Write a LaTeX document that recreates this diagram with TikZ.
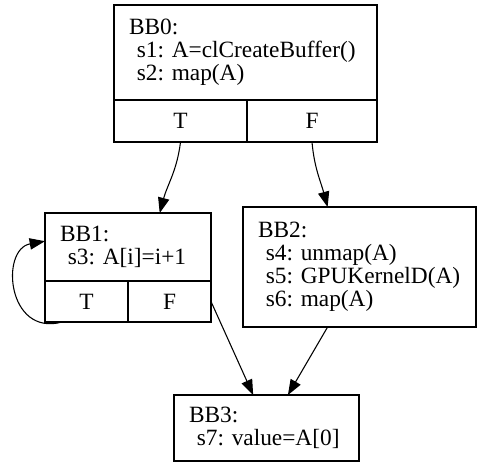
\documentclass[tikz,border=0pt]{standalone}
\usepackage{fontspec}
\setmainfont{Liberation Serif}
\usetikzlibrary{arrows.meta,positioning}
\frenchspacing

\tikzset{
  block/.style={draw, rectangle, line width=0.8pt, anchor=north west, inner xsep=11.25pt, inner ysep=0pt, outer sep=0pt, align=left, font=\fontsize{17.5}{17.25}\selectfont},
  port/.style={draw, rectangle, line width=0.8pt, anchor=north west, inner sep=0pt, outer sep=0pt, font=\fontsize{17.5}{17.25}\selectfont},
  flow/.style={-{Triangle[length=11.5pt,width=8.5pt]}, line width=0.8pt}
}

\begin{document}
\begin{tikzpicture}[x=0.75pt, y=0.75pt, line cap=round]
  \useasboundingbox (0,0) rectangle (477,-462);
  % BB0 with its two ports
  \node[block, text width=174.75pt, minimum height=71.25pt] (bb0) at (114,-5)
    {BB0:\\\ s1: A=clCreateBuffer()\\\ s2: map(A)};
  \node[port, minimum width=99.75pt, minimum height=31.5pt] (bb0t) at (bb0.south west) {T};
  \node[port, minimum width=97.5pt, minimum height=31.5pt] (bb0f) at (bb0t.north east) {F};
  % BB1 with its two ports
  \node[block, text width=102pt, minimum height=51pt] (bb1) at (45,-213)
    {BB1:\\\ s3: A[i]=i+1};
  \node[port, minimum width=62.25pt, minimum height=30.75pt] (bb1t) at (bb1.south west) {T};
  \node[port, minimum width=62.25pt, minimum height=30.75pt] (bb1f) at (bb1t.north east) {F};
  % BB2 and BB3
  \node[block, text width=152.25pt, minimum height=90pt] (bb2) at (243,-207)
    {BB2:\\\ s4: unmap(A)\\\ s5: GPUKernelD(A)\\\ s6: map(A)};
  \node[block, text width=116.25pt, minimum height=49.5pt] (bb3) at (174,-395)
    {BB3:\\\ s7: value=A[0]};
  % edges
  \draw[flow] (bb0t.south) to[out=-97, in=75] (bb1.47);
  \draw[flow] (bb0f.south) to[out=-85, in=105] (bb2.118);
  \draw[flow] (bb1t.220) .. controls +(-55,-15) and +(-45,-8) .. (bb1.176);
  \draw[flow] (bb1f.east) -- (bb3.112);
  \draw[flow] (bb2.242) -- (bb3.57);
\end{tikzpicture}
\end{document}
